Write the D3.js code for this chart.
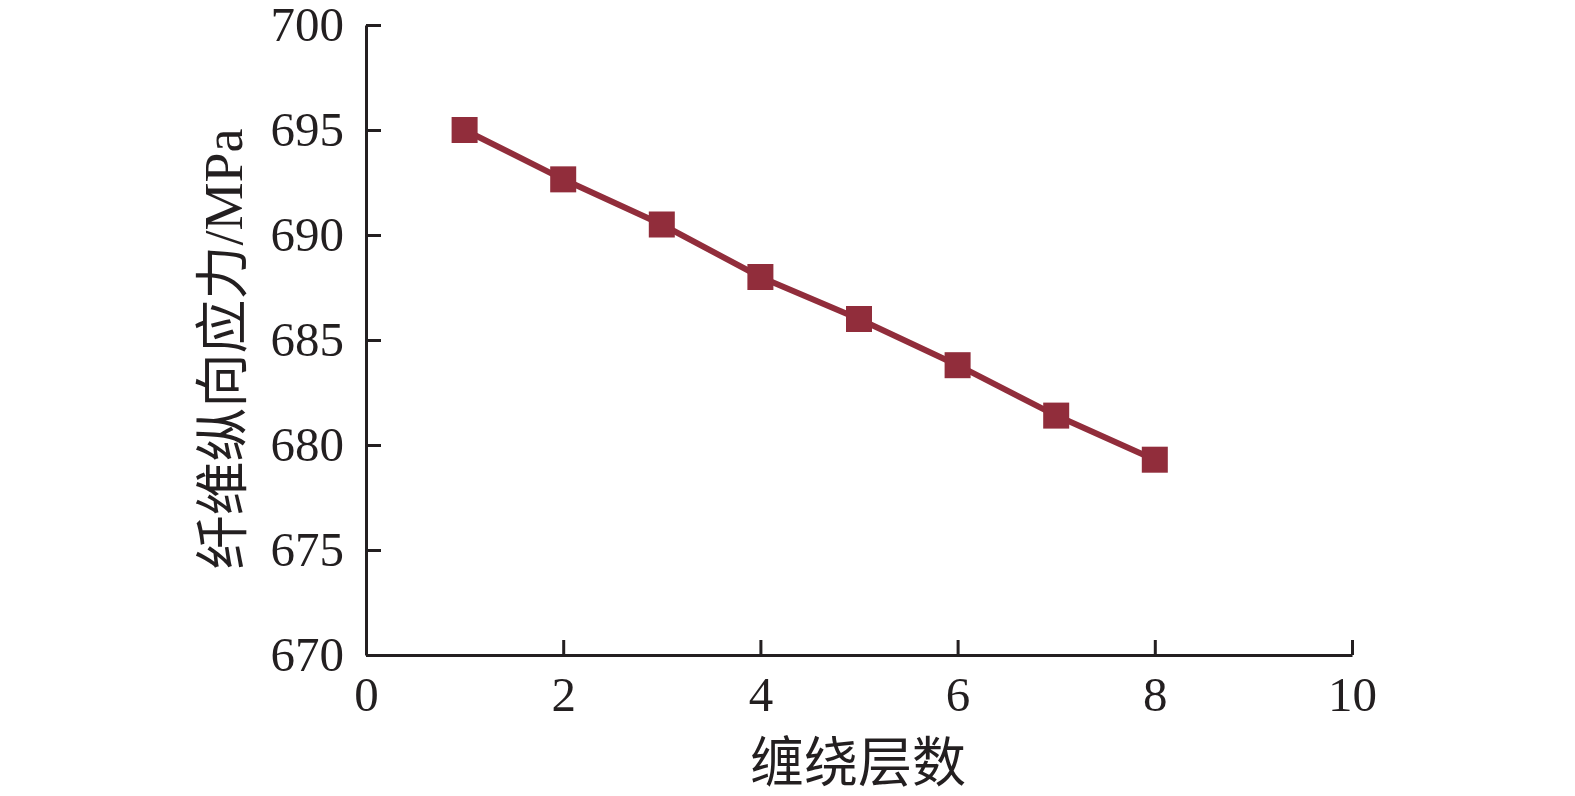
<!DOCTYPE html>
<html>
<head>
<meta charset="utf-8">
<script src="https://d3js.org/d3.v7.min.js"></script>
<style>
  body { margin: 0; background: #fff; }
  .tick text { font-family: "Liberation Serif", "Times New Roman", serif; font-size: 49px; fill: #231f20; }
  .axis-title { font-family: "Liberation Serif", "Noto Sans CJK SC", serif; font-size: 54px; fill: #231f20; }
</style>
</head>
<body>
<script>
// data
var layers = [1, 2, 3, 4, 5, 6, 7, 8];
var stress = [695.0, 692.65, 690.5, 688.0, 686.0, 683.8, 681.4, 679.3];
var xTicks = [0, 2, 4, 6, 8, 10];
var yTicks = [670, 675, 680, 685, 690, 695, 700];

var width = 1575, height = 796;
var margin = {top: 25, right: 223, bottom: 141, left: 366};

var svg = d3.select("body").append("svg")
    .attr("width", width)
    .attr("height", height);

var x = d3.scaleLinear().domain([0, 10]).range([margin.left, width - margin.right]);
var y = d3.scaleLinear().domain([670, 700]).range([height - margin.bottom, margin.top]);

// x axis, ticks pointing inward
var gx = svg.append("g")
    .attr("transform", "translate(0," + y(670) + ")")
    .call(d3.axisBottom(x).tickValues(xTicks).tickSize(-15).tickSizeOuter(0).tickPadding(40));
gx.select(".domain").attr("stroke", "#231f20").attr("stroke-width", 3);
gx.selectAll(".tick line").attr("stroke", "#231f20").attr("stroke-width", 3);
gx.selectAll(".tick text").attr("dy", "0.32em").attr("y", 40);

// y axis
var gy = svg.append("g")
    .attr("transform", "translate(" + x(0) + ",0)")
    .call(d3.axisLeft(y).tickValues(yTicks).tickSize(-15).tickSizeOuter(0).tickPadding(22));
gy.select(".domain").attr("stroke", "#231f20").attr("stroke-width", 3);
gy.selectAll(".tick line").attr("stroke", "#231f20").attr("stroke-width", 3);

// line
var line = d3.line()
    .x(function(d, i) { return x(layers[i]); })
    .y(function(d) { return y(d); });

svg.append("path")
    .datum(stress)
    .attr("fill", "none")
    .attr("stroke", "#912d3b")
    .attr("stroke-width", 6)
    .attr("d", line);

// square markers
var ms = 26;
svg.selectAll(".marker")
    .data(stress)
    .enter().append("rect")
    .attr("class", "marker")
    .attr("x", function(d, i) { return x(layers[i]) - ms / 2; })
    .attr("y", function(d) { return y(d) - ms / 2; })
    .attr("width", ms)
    .attr("height", ms)
    .attr("fill", "#912d3b");

// axis titles
svg.append("text")
    .attr("class", "axis-title")
    .attr("x", 858)
    .attr("y", 763)
    .attr("dy", "0.35em")
    .attr("text-anchor", "middle")
    .text("缠绕层数");

svg.append("text")
    .attr("class", "axis-title")
    .attr("transform", "translate(223,349) rotate(-90)")
    .attr("dy", "0.35em")
    .attr("text-anchor", "middle")
    .text("纤维纵向应力/MPa");
</script>
</body>
</html>
